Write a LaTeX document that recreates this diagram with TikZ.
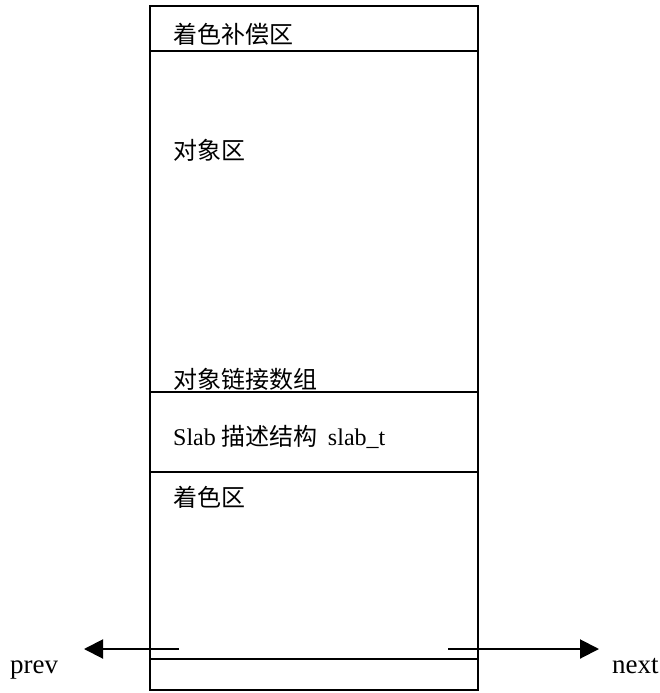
\documentclass[tikz,border=0pt]{standalone}
\usepackage{fontspec}
\setmainfont{Liberation Serif}
\newfontfamily\cjk{Noto Sans CJK SC}
\usetikzlibrary{arrows.meta}
\newcommand{\zonefont}{\fontsize{24}{28}\selectfont\cjk}
\newcommand{\ptrfont}{\fontsize{27}{30}\selectfont}
\begin{document}
\begin{tikzpicture}[x=1pt,y=-1pt,>={Triangle[length=19pt,width=19pt]}]
\tikzstyle{frame}=[line width=1.4pt]
\tikzstyle{zonetext}=[anchor=west, inner sep=0pt, font=\zonefont]
\tikzstyle{ptrtext}=[anchor=base west, inner sep=0pt, font=\ptrfont]
\tikzstyle{ptr}=[->, line width=2pt]

\useasboundingbox (0,0) rectangle (660,693);

% slab outline and zones
\draw[frame] (150,6) rectangle (478,690);
\foreach \y in {51,392,472,659}
  \draw[frame] (150,\y) -- (478,\y);

% zone labels
\node[zonetext] (colourpad) at (173,34) {着色补偿区};
\node[zonetext] (objects) at (173,150) {对象区};
\node[zonetext] (bufctl) at (173,379) {对象链接数组};
\node[zonetext] (slabdesc) at (173,437) {{\rmfamily Slab} 描述结构~~{\rmfamily slab\_t}};
\node[zonetext] (colour) at (173,497) {着色区};

% list pointers
\coordinate (prevstart) at (179,649);
\coordinate (prevend) at (84,649);
\coordinate (nextstart) at (448,649);
\coordinate (nextend) at (599,649);
\draw[ptr] (prevstart) -- (prevend);
\draw[ptr] (nextstart) -- (nextend);
\node[ptrtext] (prev) at (10,673) {prev};
\node[ptrtext] (next) at (612,673) {next};
\end{tikzpicture}
\end{document}
